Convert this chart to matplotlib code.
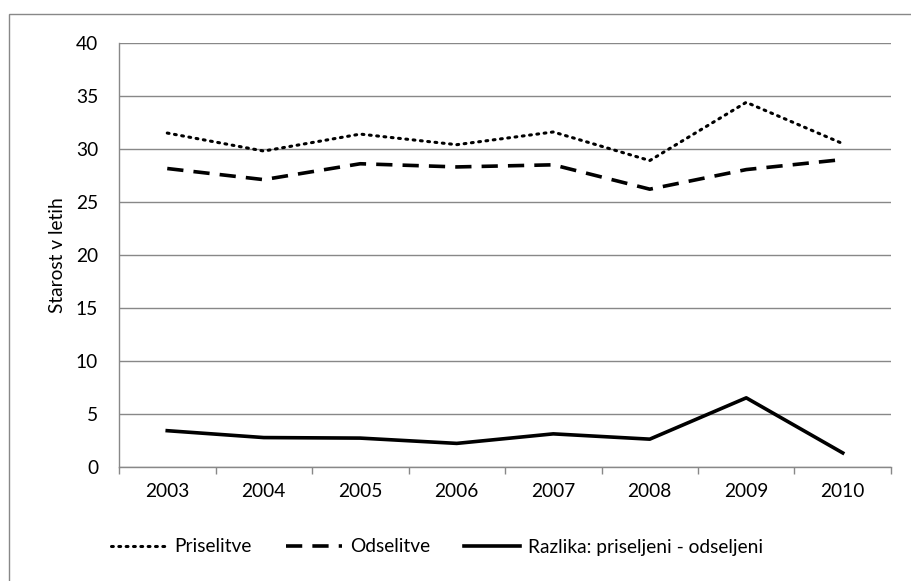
import numpy as np
import matplotlib.pyplot as plt
from matplotlib.patches import Rectangle

years = ["2003", "2004", "2005", "2006", "2007", "2008", "2009", "2010"]
priselitve = [31.5, 29.8, 31.4, 30.4, 31.6, 28.9, 34.4, 30.5]
odselitve = [28.15, 27.1, 28.6, 28.3, 28.5, 26.2, 28.05, 29.0]
razlika = [3.4, 2.75, 2.7, 2.2, 3.1, 2.6, 6.5, 1.3]

plt.rcParams["font.family"] = ["Lato", "DejaVu Sans"]
plt.rcParams["font.size"] = 13.8

fig = plt.figure(figsize=(9.11, 5.81), dpi=100)
ax = fig.add_axes([119 / 911, 1 - 466.7 / 581, (891 - 119) / 911, (466.7 - 43) / 581])

x = np.arange(len(years))
ax.plot(x, priselitve, color="black", lw=2.2, linestyle=(0, (0.6, 1.8)),
        dash_capstyle="round", label="Priselitve")
ax.plot(x, odselitve, color="black", lw=2.6, linestyle=(0, (4.5, 2.8)),
        label="Odselitve")
ax.plot(x, razlika, color="black", lw=2.6, label="Razlika: priseljeni - odseljeni")

ax.set_xlim(-0.5, len(years) - 0.5)
ax.set_ylim(0, 40)
ax.set_yticks(range(0, 41, 5))
ax.set_xticks(x)
ax.set_xticklabels(years)
ax.set_xticks(np.arange(-0.5, len(years), 1), minor=True)
ax.tick_params(axis="x", which="major", length=0, pad=12)
ax.tick_params(axis="x", which="minor", length=5, color="#888888", width=1)
ax.tick_params(axis="y", length=0, pad=15)
ax.yaxis.grid(True, color="#888888", lw=1)
ax.set_axisbelow(True)
for s in ["top", "right"]:
    ax.spines[s].set_visible(False)
for s in ["left", "bottom"]:
    ax.spines[s].set_color("#888888")
    ax.spines[s].set_linewidth(1)
ax.set_ylabel("Starost v letih", labelpad=7)

fig.legend(loc="center", bbox_to_anchor=(437 / 911, 1 - 547 / 581), ncol=3,
           frameon=False, handlelength=2.9, handletextpad=0.4, columnspacing=1.8)

fig.patches.append(Rectangle((9 / 911, -0.05), 1.2, 1 - 14 / 581 + 0.05,
                             transform=fig.transFigure, fill=False,
                             edgecolor="#888888", lw=1))

fig.savefig("out.png", dpi=100)
